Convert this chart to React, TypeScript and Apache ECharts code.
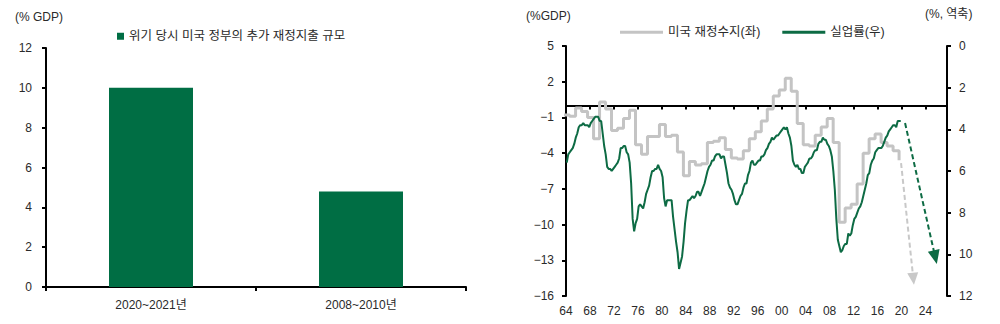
import React, { useEffect, useRef } from 'react';
import * as echarts from 'echarts';

const FONT = '"Liberation Sans", "Noto Sans CJK KR", sans-serif';

// ---- Left chart ----
const BAR_NAME = '위기 당시 미국 정부의 추가 재정지출 규모';
const barCategories = ['2020~2021년', '2008~2010년'];
const barValues = [10.0, 4.8];

// ---- Right chart ----
const FISCAL_NAME = '미국 재정수지(좌)';
const UNEMP_NAME = '실업률(우)';

// US federal budget balance (% of GDP), by fiscal year
const fiscalYears = [
  1963, 1964, 1965, 1966, 1967, 1968, 1969, 1970, 1971, 1972,
  1973, 1974, 1975, 1976, 1977, 1978, 1979, 1980, 1981, 1982,
  1983, 1984, 1985, 1986, 1987, 1988, 1989, 1990, 1991, 1992,
  1993, 1994, 1995, 1996, 1997, 1998, 1999, 2000, 2001, 2002,
  2003, 2004, 2005, 2006, 2007, 2008, 2009, 2010, 2011, 2012,
  2013, 2014, 2015, 2016, 2017, 2018, 2019,
];
const fiscalBalance = [
  -0.8, -0.9, -0.2, -0.5, -1.0, -2.8, 0.3, -0.3, -2.1, -1.9,
  -1.1, -0.4, -3.3, -4.1, -2.6, -2.6, -1.6, -2.6, -2.5, -3.9,
  -5.9, -4.7, -5.0, -4.9, -3.1, -3.0, -2.7, -3.7, -4.4, -4.5,
  -3.8, -2.8, -2.2, -1.3, -0.3, 0.8, 1.3, 2.3, 1.2, -1.5,
  -3.3, -3.4, -2.5, -1.8, -1.1, -3.1, -9.8, -8.6, -8.3, -6.6,
  -4.0, -2.8, -2.4, -3.1, -3.4, -3.8, -4.6,
];
// fiscal-year value is drawn from this fraction of a year after the FY label
const FY_SHIFT = 0.6;

// US unemployment rate (%), quarterly
const unempYears = [
  1964, 1965, 1966, 1967, 1968, 1969, 1970, 1971, 1972, 1973,
  1974, 1975, 1976, 1977, 1978, 1979, 1980, 1981, 1982, 1983,
  1984, 1985, 1986, 1987, 1988, 1989, 1990, 1991, 1992, 1993,
  1994, 1995, 1996, 1997, 1998, 1999, 2000, 2001, 2002, 2003,
  2004, 2005, 2006, 2007, 2008, 2009, 2010, 2011, 2012, 2013,
  2014, 2015, 2016, 2017, 2018, 2019,
];
const unempQuarterly = [
  [5.6, 5.2, 5.1, 5.0], [4.9, 4.7, 4.4, 4.2], [3.9, 3.8, 3.8, 3.7], [3.8, 3.8, 3.8, 3.9],
  [3.7, 3.6, 3.5, 3.4], [3.4, 3.4, 3.6, 3.6], [4.2, 4.8, 5.2, 5.8], [5.9, 5.9, 6.0, 5.9],
  [5.8, 5.7, 5.6, 5.4], [4.9, 4.9, 4.8, 4.8], [5.1, 5.2, 5.6, 6.6], [8.3, 8.9, 8.5, 8.3],
  [7.7, 7.6, 7.7, 7.8], [7.5, 7.1, 6.9, 6.7], [6.3, 6.0, 6.0, 5.9], [5.9, 5.7, 5.9, 6.0],
  [6.3, 7.3, 7.7, 7.4], [7.4, 7.4, 7.4, 8.2], [8.8, 9.4, 9.9, 10.7], [10.4, 10.1, 9.4, 8.5],
  [7.9, 7.4, 7.4, 7.3], [7.2, 7.3, 7.2, 7.0], [7.0, 7.2, 7.0, 6.8], [6.6, 6.3, 6.0, 5.8],
  [5.7, 5.5, 5.5, 5.3], [5.2, 5.2, 5.2, 5.4], [5.3, 5.3, 5.7, 6.1], [6.6, 6.8, 6.9, 7.1],
  [7.4, 7.6, 7.6, 7.4], [7.2, 7.1, 6.8, 6.6], [6.6, 6.2, 6.0, 5.6], [5.5, 5.7, 5.7, 5.6],
  [5.5, 5.5, 5.3, 5.3], [5.2, 5.0, 4.9, 4.7], [4.6, 4.4, 4.5, 4.4], [4.3, 4.3, 4.2, 4.1],
  [4.0, 3.9, 4.0, 3.9], [4.2, 4.4, 4.8, 5.5], [5.7, 5.8, 5.7, 5.9], [5.9, 6.1, 6.1, 5.8],
  [5.7, 5.6, 5.4, 5.4], [5.3, 5.1, 5.0, 5.0], [4.7, 4.6, 4.6, 4.4], [4.5, 4.5, 4.7, 4.8],
  [5.0, 5.3, 6.0, 6.9], [8.3, 9.3, 9.6, 9.9], [9.8, 9.6, 9.5, 9.5], [9.0, 9.1, 9.0, 8.6],
  [8.3, 8.2, 8.0, 7.8], [7.7, 7.5, 7.2, 6.9], [6.6, 6.2, 6.1, 5.7], [5.5, 5.4, 5.1, 5.0],
  [4.9, 4.9, 4.9, 4.8], [4.6, 4.4, 4.3, 4.1], [4.0, 3.9, 3.8, 3.8], [3.9, 3.6, 3.6, 3.6],
];

// forecast arrows: [start, end] as [year, value]
const fiscalArrow = [[2019.93, -4.83], [2021.98, -14.55]];
const unempArrow = [[2020.6, 3.7], [2025.64, 10.14]];

// axis ranges
const yearMin = 1964;
const yearMax = 2027.6;
const yearStep = 4;
const fiscalMin = -16;
const fiscalMax = 5;
const fiscalStep = 3;
const unempMin = 0;
const unempMax = 12;
const unempStep = 2;
const barMin = 0;
const barMax = 12;
const barStep = 2;

const GRAY = '#c4c4c4';
const GREEN_LINE = '#0d6b44';
const GREEN_BAR = '#006e44';
const TEXT = '#2a2a2a';

function fmtSigned(v: number): string {
  return v < 0 ? '\u2212' + Math.abs(v) : String(v);
}

export default function App() {
  const ref = useRef<HTMLDivElement>(null);

  useEffect(() => {
    if (!ref.current) return;
    const chart = echarts.init(ref.current, undefined, { renderer: 'svg' });

    const fiscalPoints = fiscalYears.map((y, i) => [y + FY_SHIFT, fiscalBalance[i]]);
    const unempPoints: number[][] = [];
    unempYears.forEach((y, i) => {
      unempQuarterly[i].forEach((v, q) => {
        unempPoints.push([y + q * 0.25 + 0.125, v]);
      });
    });

    const axisLineStyle = { color: '#000', width: 2 };
    const tickStyle = { color: '#000', width: 2 };
    const labelStyle = { color: TEXT, fontSize: 12, fontFamily: FONT };

    const option: any = {
      animation: false,
      textStyle: { fontFamily: FONT },
      graphic: [
        { type: 'text', left: 15, top: 11, style: { text: '(% GDP)', font: '12px ' + FONT, fill: TEXT } },
        { type: 'text', left: 526, top: 10, style: { text: '(%GDP)', font: '12px ' + FONT, fill: TEXT } },
        { type: 'text', left: 925, top: 8, style: { text: '(%, 역축)', font: '12px ' + FONT, fill: TEXT } },
      ],
      legend: [
        {
          data: [BAR_NAME],
          left: 112,
          top: 25,
          icon: 'rect',
          itemWidth: 7,
          itemHeight: 7,
          selectedMode: false,
          textStyle: { color: TEXT, fontSize: 12.5, fontFamily: FONT },
        },
        {
          data: [FISCAL_NAME, UNEMP_NAME],
          left: 615,
          top: 21,
          icon: 'rect',
          itemWidth: 43,
          itemHeight: 3,
          itemGap: 22,
          selectedMode: false,
          textStyle: { color: TEXT, fontSize: 12.5, fontFamily: FONT },
        },
      ],
      grid: [
        { left: 46, top: 48, width: 420, height: 239 },
        { left: 566, top: 46, width: 381, height: 250 },
      ],
      xAxis: [
        {
          gridIndex: 0,
          type: 'category',
          data: barCategories,
          axisLine: { show: true, lineStyle: axisLineStyle },
          axisTick: { show: true, length: 4, lineStyle: tickStyle },
          axisLabel: { ...labelStyle, margin: 12 },
          splitLine: { show: false },
        },
        {
          gridIndex: 1,
          type: 'value',
          min: yearMin,
          max: yearMax,
          interval: yearStep,
          position: 'bottom',
          axisLine: { show: false, onZero: false },
          axisTick: { show: false },
          splitLine: { show: false },
          axisLabel: {
            ...labelStyle,
            margin: 9,
            showMaxLabel: false,
            formatter: (v: number) => String(Math.round(v)).slice(2),
          },
        },
        {
          gridIndex: 1,
          type: 'value',
          min: yearMin,
          max: yearMax,
          interval: yearStep,
          position: 'bottom',
          axisLine: { show: true, onZero: true, onZeroAxisIndex: 1, lineStyle: axisLineStyle },
          axisTick: { show: true, length: 4, lineStyle: tickStyle },
          axisLabel: { show: false },
          splitLine: { show: false },
        },
      ],
      yAxis: [
        {
          gridIndex: 0,
          type: 'value',
          min: barMin,
          max: barMax,
          interval: barStep,
          axisLine: { show: true, lineStyle: axisLineStyle },
          axisTick: { show: true, length: 4, lineStyle: tickStyle },
          axisLabel: { ...labelStyle, margin: 14 },
          splitLine: { show: false },
        },
        {
          gridIndex: 1,
          type: 'value',
          position: 'left',
          min: fiscalMin,
          max: fiscalMax,
          interval: fiscalStep,
          axisLine: { show: true, onZero: false, lineStyle: axisLineStyle },
          axisTick: { show: true, length: 4, lineStyle: tickStyle },
          axisLabel: { ...labelStyle, margin: 12, formatter: fmtSigned },
          splitLine: { show: false },
        },
        {
          gridIndex: 1,
          type: 'value',
          position: 'right',
          inverse: true,
          min: unempMin,
          max: unempMax,
          interval: unempStep,
          axisLine: { show: true, onZero: false, lineStyle: axisLineStyle },
          axisTick: { show: true, length: 4, lineStyle: tickStyle },
          axisLabel: { ...labelStyle, margin: 12 },
          splitLine: { show: false },
        },
      ],
      series: [
        {
          type: 'bar',
          name: BAR_NAME,
          xAxisIndex: 0,
          yAxisIndex: 0,
          data: barValues,
          barWidth: 84,
          itemStyle: { color: GREEN_BAR },
        },
        {
          type: 'line',
          name: FISCAL_NAME,
          xAxisIndex: 1,
          yAxisIndex: 1,
          data: fiscalPoints,
          step: 'end',
          symbol: 'none',
          showSymbol: false,
          lineStyle: { color: GRAY, width: 3 },
          itemStyle: { color: GRAY },
          markLine: {
            silent: true,
            symbol: ['none', 'triangle'],
            symbolSize: [11, 12],
            label: { show: false },
            lineStyle: { color: '#c8c8c8', width: 2, type: [5, 3] },
            data: [[{ coord: fiscalArrow[0] }, { coord: fiscalArrow[1] }]],
          },
        },
        {
          type: 'line',
          name: UNEMP_NAME,
          xAxisIndex: 1,
          yAxisIndex: 2,
          data: unempPoints,
          symbol: 'none',
          showSymbol: false,
          lineStyle: { color: GREEN_LINE, width: 2 },
          itemStyle: { color: GREEN_LINE },
          markLine: {
            silent: true,
            symbol: ['none', 'triangle'],
            symbolSize: [12, 14],
            label: { show: false },
            lineStyle: { color: GREEN_LINE, width: 2, type: [5, 3] },
            data: [[{ coord: unempArrow[0] }, { coord: unempArrow[1] }]],
          },
        },
      ],
    };

    chart.setOption(option);
    return () => chart.dispose();
  }, []);

  return (
    <div
      ref={ref}
      style={{ position: 'absolute', left: 0, top: 0, width: 1000, height: 324, background: '#fff' }}
    />
  );
}
